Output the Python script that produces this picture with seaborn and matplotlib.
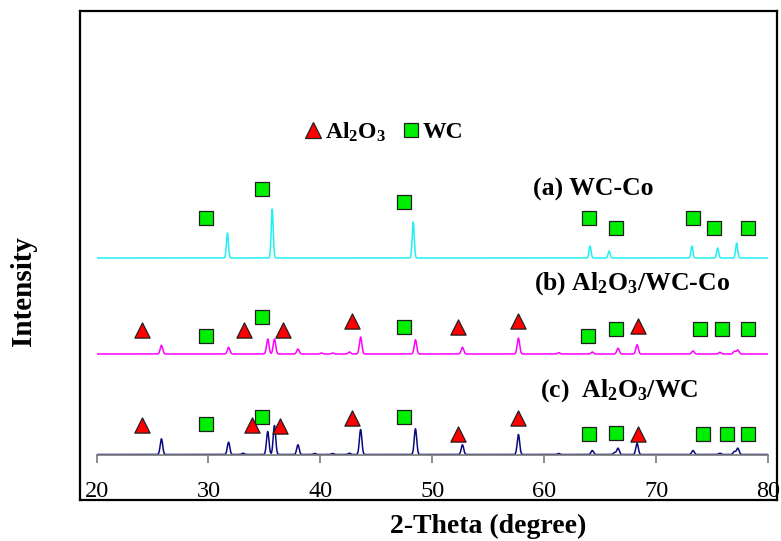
import numpy as np
import pandas as pd
import matplotlib
matplotlib.use("Agg")
import matplotlib.pyplot as plt
import seaborn as sns
from matplotlib.lines import Line2D

sns.set_theme(style="white")
plt.rcParams["font.family"] = ["Liberation Serif", "DejaVu Serif"]
plt.rcParams["mathtext.fontset"] = "custom"
plt.rcParams["mathtext.rm"] = "Liberation Serif:bold"
plt.rcParams["mathtext.it"] = "Liberation Serif:bold"
plt.rcParams["mathtext.bf"] = "Liberation Serif:bold"
plt.rcParams["text.color"] = "black"
plt.rcParams["xtick.color"] = "black"
plt.rcParams["axes.labelcolor"] = "black"

# ---------------- data ----------------
tick_values = [20, 30, 40, 50, 60, 70, 80]
sample_names = ["a", "b", "c"]
sample_offsets = [197, 101, 0.5]

peaks_a_pos = [31.7, 35.7, 48.3, 64.1, 65.8, 73.2, 75.5, 77.2]
peaks_a_int = [25, 49, 36, 12, 7, 12, 10, 15]

peaks_b_pos = [25.8, 31.8, 35.3, 35.9, 38.0, 40.1, 41.1, 42.6, 43.6, 48.5,
               52.7, 57.7, 61.3, 64.3, 66.6, 68.3, 73.3, 75.7, 77.0, 77.3]
peaks_b_int = [8.7, 6.7, 15, 15, 5, 1, 1, 2, 17, 14.3,
               6.7, 16, 1.3, 2, 5.7, 9.3, 3, 1.7, 2.7, 4]

peaks_c_pos = [25.8, 31.8, 33.1, 35.3, 35.9, 38.0, 39.5, 41.1, 42.6, 43.6, 48.5,
               52.7, 57.7, 61.3, 64.3, 66.3, 66.6, 68.3, 73.3, 75.7, 77.0, 77.3]
peaks_c_int = [15.7, 12.3, 1.3, 23, 29, 9.7, 1, 1, 1.3, 25, 25.7,
               9.7, 20, 1, 4, 2, 6.3, 11.3, 4, 1.3, 3, 6.3]

line_colors = ["#22f0f0", "#ff00ff", "#0a0a80"]

# phase markers (2-theta, height)
mark_a_wc_pos = [29.8, 34.8, 47.5, 64.0, 66.4, 73.3, 75.2, 78.2]
mark_a_wc_y = [237, 266, 253, 237, 227, 237, 227, 227]

mark_b_al_pos = [24.1, 33.2, 36.7, 42.8, 52.3, 57.7, 68.4]
mark_b_al_y = [125, 125, 125, 134, 128, 134, 129]
mark_b_wc_pos = [29.8, 34.8, 47.5, 63.9, 66.4, 73.9, 75.9, 78.2]
mark_b_wc_y = [119, 138, 128, 119, 126, 126, 126, 126]

mark_c_al_pos = [24.1, 33.9, 36.4, 42.8, 52.3, 57.7, 68.4]
mark_c_al_y = [30, 30, 29, 37.5, 21, 37.5, 21]
mark_c_wc_pos = [29.8, 34.8, 47.5, 64.0, 66.4, 74.2, 76.3, 78.2]
mark_c_wc_y = [31, 38, 38.5, 21, 22, 21, 21, 21]

sample_labels = [r"(a) WC-Co", r"(b) Al$_2$O$_3$/WC-Co", r"(c)  Al$_2$O$_3$/WC"]
phase_labels = [r"Al$_2$O$_3$", "WC"]

# ---------------- build tables ----------------
theta = np.arange(20.0, 80.0001, 0.02)
rows = []
for name, off, pos, inten, sig in zip(
        sample_names, sample_offsets,
        [peaks_a_pos, peaks_b_pos, peaks_c_pos],
        [peaks_a_int, peaks_b_int, peaks_c_int],
        [0.09, 0.11, 0.11]):
    prof = np.full_like(theta, off)
    for p, h in zip(pos, inten):
        prof += h * np.exp(-0.5 * ((theta - p) / sig) ** 2)
    rows.append(pd.DataFrame({"theta": theta, "intensity": prof, "sample": name}))
lines = pd.concat(rows, ignore_index=True)

marks = pd.concat([
    pd.DataFrame({"theta": mark_a_wc_pos, "y": mark_a_wc_y, "phase": "WC"}),
    pd.DataFrame({"theta": mark_b_al_pos, "y": mark_b_al_y, "phase": "Al2O3"}),
    pd.DataFrame({"theta": mark_b_wc_pos, "y": mark_b_wc_y, "phase": "WC"}),
    pd.DataFrame({"theta": mark_c_al_pos, "y": mark_c_al_y, "phase": "Al2O3"}),
    pd.DataFrame({"theta": mark_c_wc_pos, "y": mark_c_wc_y, "phase": "WC"}),
], ignore_index=True)

# ---------------- figure ----------------
W, H = 781, 541
fig = plt.figure(figsize=(W / 100, H / 100), dpi=100)
fig.patch.set_facecolor("white")

# outer frame box
box = fig.add_axes([80 / W, 1 - 500 / H, (777 - 80) / W, (500 - 11) / H])
box.set_xticks([]); box.set_yticks([])
box.set_facecolor("white")
for s in box.spines.values():
    s.set_visible(True); s.set_color("black"); s.set_linewidth(1.6)

# inner data axes
ax = fig.add_axes([96.5 / W, 1 - 455 / H, (768 - 96.5) / W, (455 - 11) / H])
ax.patch.set_alpha(0)

sns.lineplot(data=lines, x="theta", y="intensity", hue="sample",
             palette=dict(zip(sample_names, line_colors)),
             estimator=None, sort=False, linewidth=1.1, legend=False, ax=ax)

sns.scatterplot(data=marks[marks.phase == "Al2O3"], x="theta", y="y",
                marker="^", color="#ff0000", edgecolor="#202020", linewidth=0.9,
                s=120, legend=False, ax=ax, zorder=5)
sns.scatterplot(data=marks[marks.phase == "WC"], x="theta", y="y",
                marker="s", color="#00ee00", edgecolor="#202020", linewidth=0.9,
                s=100, legend=False, ax=ax, zorder=5)

ax.set_xlim(tick_values[0], tick_values[-1])
ax.set_ylim(0, 444)
ax.set_xticks(tick_values)
ax.set_xticklabels([str(v) for v in tick_values], fontsize=17.5, color="black")
ax.set_yticks([])
ax.set_xlabel(""); ax.set_ylabel("")
for side in ["top", "right", "left"]:
    ax.spines[side].set_visible(False)
ax.spines["bottom"].set_color("#7a7a7a")
ax.spines["bottom"].set_linewidth(1.2)
ax.tick_params(axis="x", direction="out", length=6, width=1.2, color="#7a7a7a",
               labelcolor="black", pad=13, bottom=True)

# legend
handles = [
    Line2D([], [], linestyle="none", marker="^", markersize=11,
           markerfacecolor="#ff0000", markeredgecolor="#202020", markeredgewidth=0.9),
    Line2D([], [], linestyle="none", marker="s", markersize=10,
           markerfacecolor="#00ee00", markeredgecolor="#202020", markeredgewidth=0.9),
]
leg = fig.legend(handles, phase_labels, loc="center", bbox_to_anchor=(384 / W, 1 - 132 / H),
                 ncol=2, frameon=False, handlelength=0.7, handletextpad=0.15,
                 columnspacing=0.7, prop={"weight": "bold", "size": 17})
for t in leg.get_texts():
    t.set_color("black")

# sample labels
label_pos = [(593, 189), (632, 284), (619, 391)]
for txt, (px, py) in zip(sample_labels, label_pos):
    fig.text(px / W, 1 - py / H, txt, ha="center", va="center",
             fontsize=18.5, fontweight="bold", color="black")

fig.text(488 / W, 1 - 526 / H, "2-Theta (degree)", ha="center", va="center",
         fontsize=20, fontweight="bold", color="black")
fig.text(23 / W, 1 - 291 / H, "Intensity", ha="center", va="center",
         rotation=90, fontsize=21, fontweight="bold", color="black")

fig.savefig("out.png", dpi=100)
